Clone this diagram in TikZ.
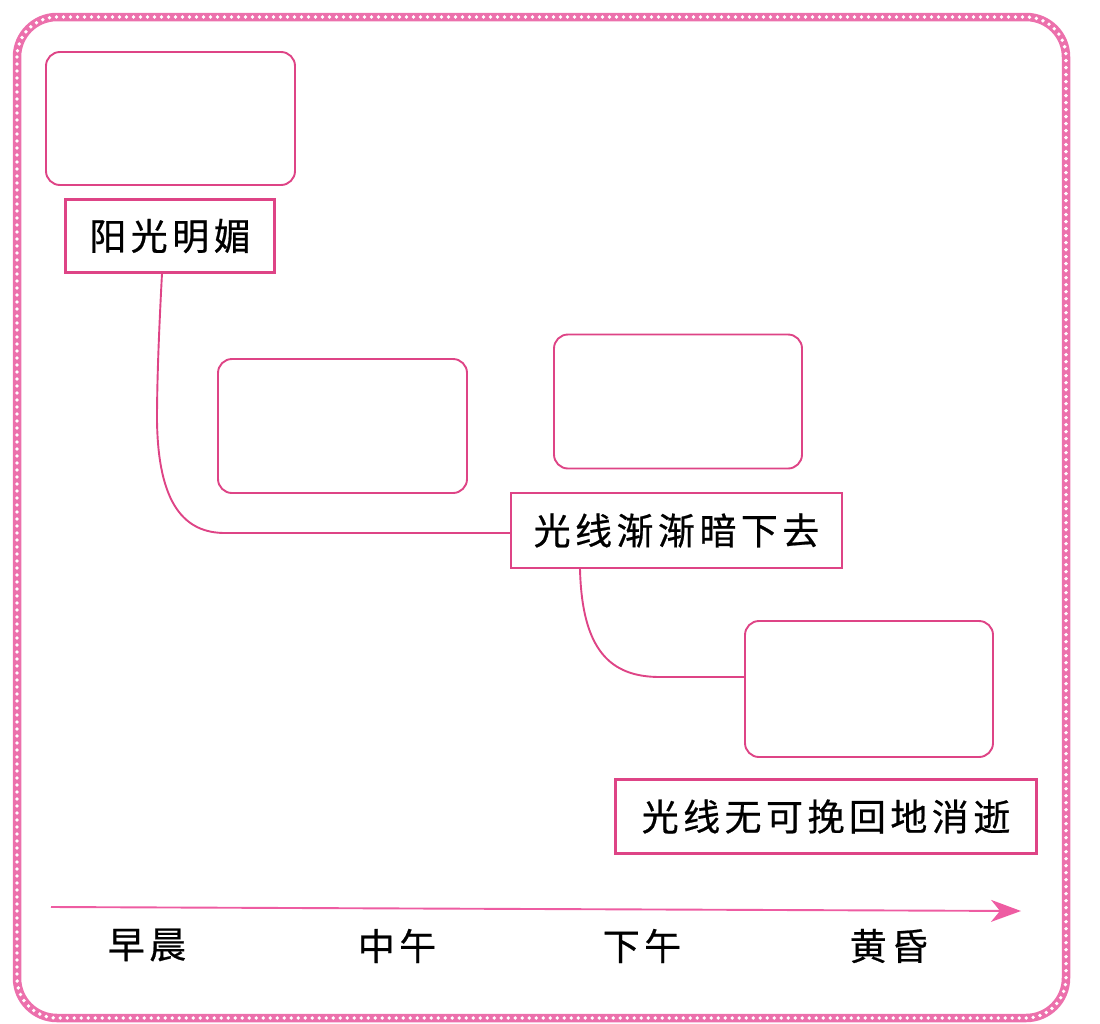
\documentclass[tikz,border=0pt]{standalone}
\usepackage{fontspec}
\newfontfamily\cjk[LetterSpace=12,FakeBold=0.6]{Noto Sans CJK SC}
\usetikzlibrary{arrows.meta}
\definecolor{boxpink}{RGB}{222,68,134}
\definecolor{framepink}{RGB}{236,112,172}
\definecolor{arrowpink}{RGB}{238,92,162}
\tikzset{
  emptybox/.style={draw=boxpink, line width=1.9pt, rounded corners=14pt, inner sep=0pt},
  labelbox/.style={draw=boxpink, line width=2.1pt, inner sep=0pt, font=\cjk\fontsize{37}{42}\selectfont, text=black},
  axislabel/.style={inner sep=0pt, font=\cjk\fontsize{37}{42}\selectfont, text=black},
  conn/.style={draw=boxpink, line width=1.9pt}
}
\begin{document}
\begin{tikzpicture}[x=1pt,y=-1pt]
\useasboundingbox (0,0) rectangle (1100,1023);
% frame
\draw[framepink, line width=8.5pt, rounded corners=40pt] (17,17) rectangle (1066,1018);
\draw[white, line width=3.8pt, dash pattern=on 0pt off 7pt, line cap=round, rounded corners=40pt] (17,17) rectangle (1066,1018);
% empty boxes
\node[emptybox, minimum width=249pt, minimum height=133pt] (b1) at (170.5,118.5) {};
\node[emptybox, minimum width=249pt, minimum height=134pt] (b2) at (342.5,426) {};
\node[emptybox, minimum width=248pt, minimum height=134pt] (b3) at (678,401.5) {};
\node[emptybox, minimum width=248pt, minimum height=136pt] (b4) at (869,689) {};
% label boxes
\node[labelbox, minimum width=209pt, minimum height=73pt] (l1) at (170,236) {阳光明媚};
\node[labelbox, minimum width=331pt, minimum height=75pt] (l2) at (676.5,530.5) {光线渐渐暗下去};
\node[labelbox, minimum width=421pt, minimum height=74pt] (l3) at (826,816.5) {光线无可挽回地消逝};
% connectors
\draw[conn] ([xshift=-8pt]l1.south) .. controls (159,330) and (157,380) .. (157,420) .. controls (158,505) and (185,533) .. (225,533) -- (l2.west |- 0,533);
\draw[conn] ([xshift=-96.5pt]l2.south) .. controls (582,650) and (610,677) .. (660,677) -- (b4.west |- 0,677);
% time axis
\coordinate (axs) at (51,907);
\coordinate (axe) at (1021,911);
\draw[arrowpink, line width=1.9pt, -{Stealth[length=30pt,width=22pt,inset=9pt]}] (axs) -- (axe);
\node[axislabel] (t1) at (147,945) {早晨};
\node[axislabel] (t2) at (397,946) {中午};
\node[axislabel] (t3) at (642,946) {下午};
\node[axislabel] (t4) at (889,946) {黄昏};
\end{tikzpicture}
\end{document}
